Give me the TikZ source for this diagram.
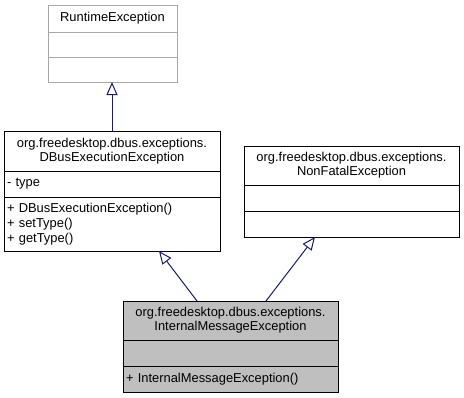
\documentclass[tikz,border=0pt]{standalone}
\usepackage{fontspec}
\setmainfont{Liberation Sans}
\usetikzlibrary{arrows.meta, positioning}
\definecolor{cnavy}{HTML}{191970}
\definecolor{cgreyline}{HTML}{A8A8A8}
\definecolor{cgreyfill}{HTML}{BFBFBF}
\tikzset{
  every picture/.style={font=\fontsize{12.9}{13.8}\selectfont, line width=1pt},
  part/.style={draw, minimum width=#1, inner sep=0pt, outer sep=0pt},
  title/.style={part=#1, align=center},
  members/.style={part=#1, align=left, inner xsep=3pt},
  inherit/.style={draw=cnavy, -{Triangle[open, length=13pt, width=11pt, fill=white]}},
}

\begin{document}
\begin{tikzpicture}[x=1pt, y=-1pt]
  \useasboundingbox (0,0) rectangle (464,397);
  % base class (outside the docs)
  \node[title=129pt, minimum height=27pt, draw=cgreyline] (re-t) at (112.5,18.5) {RuntimeException};
  \node[part=129pt, minimum height=25pt, draw=cgreyline, below=0pt of re-t] (re-a) {};
  \node[part=129pt, minimum height=25pt, draw=cgreyline, below=0pt of re-a] (re-m) {};
  % DBusExecutionException
  \node[title=216pt, minimum height=40pt] (dbus-t) at (112,151) {org.freedesktop.dbus.exceptions.\\DBusExecutionException};
  \node[members=216pt, text width=210pt, minimum height=26pt, below=0pt of dbus-t] (dbus-a) {- type};
  \node[members=216pt, text width=210pt, minimum height=54pt, below=0pt of dbus-a, font=\fontsize{12.9}{15}\selectfont] (dbus-m) {+ DBusExecutionException()\\+ setType()\\+ getType()};
  % NonFatalException
  \node[title=215pt, minimum height=39pt] (nf-t) at (351.5,165.5) {org.freedesktop.dbus.exceptions.\\NonFatalException};
  \node[part=215pt, minimum height=26pt, below=0pt of nf-t] (nf-a) {};
  \node[part=215pt, minimum height=26pt, below=0pt of nf-a] (nf-m) {};
  % InternalMessageException
  \node[title=215pt, minimum height=39pt, fill=cgreyfill] (ime-t) at (230.5,320.5) {org.freedesktop.dbus.exceptions.\\InternalMessageException};
  \node[part=215pt, minimum height=26pt, fill=cgreyfill, below=0pt of ime-t] (ime-a) {};
  \node[members=215pt, text width=209pt, minimum height=26pt, fill=cgreyfill, below=0pt of ime-a] (ime-m) {+ InternalMessageException()};
  % inheritance
  \draw[inherit] (dbus-t.north) -- (re-m.south -| dbus-t.north);
  \draw[inherit] ([xshift=-33.5pt]ime-t.north) -- ([xshift=47pt]dbus-m.south);
  \draw[inherit] ([xshift=35.5pt]ime-t.north) -- ([xshift=-36.5pt]nf-m.south);
\end{tikzpicture}
\end{document}
